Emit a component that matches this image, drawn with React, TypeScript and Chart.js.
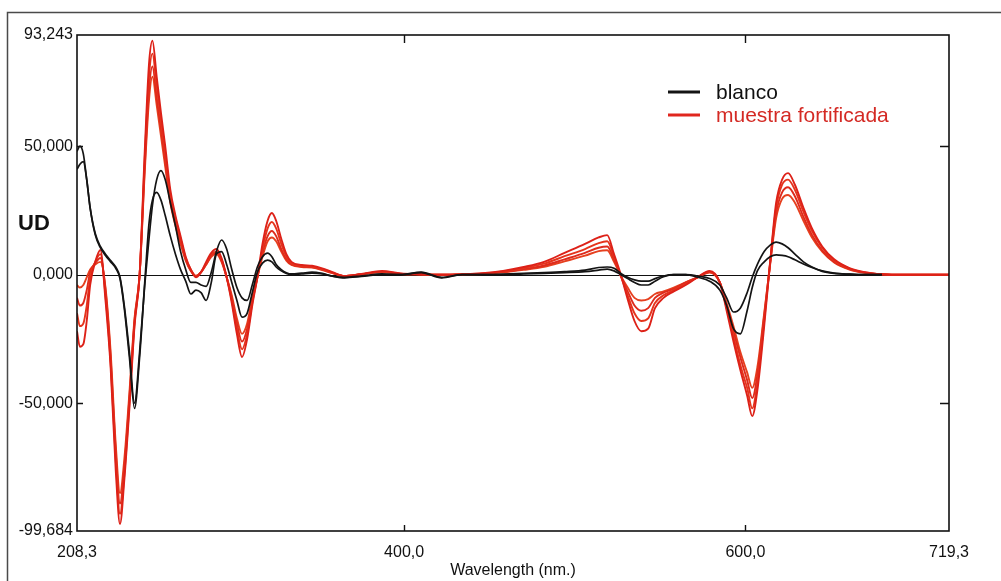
import React, { useEffect, useRef } from "react";
import { Chart, registerables } from "chart.js";

Chart.register(...registerables);

const wavelengths = [
  208.3, 210, 212, 214, 216, 219, 222, 225, 228, 231,
  233.5, 236, 239, 242, 245, 248, 250.5, 252.5, 255, 257.5,
  260, 263, 266, 269, 272, 275, 278, 281, 284, 287,
  290, 293, 296, 299, 302, 305, 308, 311, 314, 317,
  320, 322.5, 325, 328, 331, 334, 340, 346, 352, 358,
  365, 375, 387, 398, 410, 422, 434, 446, 458, 470,
  482, 494, 506, 514, 519, 523, 527, 531, 535, 539,
  543, 547, 552, 558, 565, 572, 579, 585, 589, 593,
  597, 601, 604, 607, 611, 614.5, 618, 621.5, 625, 629,
  634, 639, 645, 652, 661, 670, 680, 692, 705, 719.3,
];

const blanco1 = [
  48, 50, 47, 37, 26, 16, 11, 8, 5.5, 3,
  -1, -12, -30, -50, -30, -4, 14, 27, 37, 40.5,
  37, 28, 19, 9, 2, -3, -3, -4, -4.5, 1,
  9, 13.5, 10, 2, -5, -9, -10, -4, 3, 7,
  8.4, 7, 4, 2, 0.8, 0.3, 0.6, 1, 0.5, -0.5,
  -1, -0.5, 0.3, 0, 1, -1, 0, 0, 0.2, 0.5,
  0.8, 1.2, 1.8, 2.8, 3, 2.5, 0.5, -1, -2, -2.5,
  -2.5, -1.5, -0.5, 0, 0, -0.5, -1.5, -4, -9, -14.5,
  -13, -7, -1, 4, 9, 11.5, 12.7, 12, 10.5, 8,
  5, 3, 1.3, 0.5, 0.2, 0, 0, null, null, null,
];

const blanco2 = [
  41, 43, 44, 37, 26, 15.5, 10.5, 7.5, 5, 2.5,
  -1.5, -13, -32, -52, -32, -3, 20, 29, 32, 29,
  23, 15, 8, 2, -2.5, -7.5, -6, -7, -10, -3,
  8, 9, 4, -3, -10, -16.5, -15, -7, 1, 4.5,
  5.7, 5, 3, 1.5, 0.5, 0, 0.3, 0.6, 0.3, -0.6,
  -1.2, -0.7, 0, 0, 0.8, -1.2, 0, 0, 0, 0.3,
  0.5, 0.8, 1.2, 1.8, 2.2, 1.5, 0, -1.5, -3, -4,
  -4, -2.5, -0.8, 0, 0, -1, -2.5, -6, -12, -21,
  -23, -14, -5, 1.5, 5, 7, 7.7, 7.5, 7, 5.8,
  4.2, 2.8, 1.5, 0.6, 0.2, 0, 0, null, null, null,
];

const fortificada1 = [
  -22, -28, -27, -18, -4, 5, 9.6, -10, -36, -76,
  -97, -80, -52, -20, 0, 48, 82, 91, 77, 63,
  50, 33, 23, 15, 7, 2, -1, 1, 5, 8.5,
  10, 6.5, -1, -11, -23, -32, -25, -12, -1, 12,
  21, 24, 21, 14, 8, 5, 3.8, 3.5, 2.5, 1,
  -0.5, 0.3, 1.5, 0.5, 0.2, 0, 0.2, 0.6, 1.5, 3,
  5, 8.5, 12, 14.5, 15.4, 8, 0, -9.5, -18, -22,
  -21, -13, -9, -6.5, -4, -1, 1.5, -3, -14, -26,
  -37, -47, -55, -45, -20, 5, 28, 37, 39.5, 35,
  26, 18, 11, 6, 2.6, 1, 0.2, 0, 0, 0,
];

const fortificada2 = [
  -15, -20, -19, -12, -1, 5, 8, -8, -34, -72,
  -93, -78, -50, -19, 0, 45, 77, 86, 73, 60,
  47, 31, 22, 14, 6.5, 2, -0.5, 1, 4.5, 8,
  9, 6, -1, -10, -21, -29, -23, -11, -1, 10,
  18, 20.5, 18, 12, 7, 4.5, 3.5, 3.2, 2.2, 0.8,
  -0.5, 0.2, 1.2, 0.4, 0.2, 0, 0.2, 0.5, 1.3, 2.6,
  4.3, 7.2, 10, 12.3, 13, 7, -0.5, -8, -15, -18,
  -17, -11, -8, -6, -3.5, -1, 1.2, -3, -13, -24,
  -35, -44, -52, -42, -18, 5, 26, 35, 37, 33,
  24.5, 17, 10.5, 5.5, 2.4, 0.9, 0.2, 0, 0, 0,
];

const fortificada3 = [
  -9, -12, -11, -6, 1, 4.5, 6.5, -6, -32, -69,
  -89, -75, -48, -18, 0, 42, 72, 81, 69, 57,
  44, 29, 20, 13, 6, 1.5, -0.5, 1, 4, 7.5,
  8.5, 5.5, -1, -9, -19, -26, -21, -10, -1, 8.5,
  15, 17, 15, 10, 6, 4, 3.2, 3, 2, 0.7,
  -0.5, 0.2, 1, 0.3, 0.1, 0, 0.1, 0.4, 1.1, 2.2,
  3.6, 6, 8.5, 10.5, 11, 6, -0.5, -6.5, -12, -14,
  -13, -9, -7, -5.5, -3, -1, 1, -3, -12, -22,
  -32, -41, -48, -39, -16, 4.5, 24, 32, 34, 30.5,
  22.5, 15.5, 9.5, 5, 2.2, 0.8, 0.2, 0, 0, 0,
];

const fortificada4 = [
  -4, -5, -4, -1, 2, 4, 5, -5, -30, -66,
  -85, -72, -46, -17, 0, 40, 68, 77, 66, 54,
  42, 28, 19, 12, 5.5, 1.5, -0.5, 1, 4, 7,
  8, 5, -1, -8, -17, -23, -19, -9, -1, 7,
  13, 14.5, 13, 9, 5.5, 3.8, 3, 2.8, 1.8, 0.6,
  -0.5, 0.2, 1, 0.3, 0.1, 0, 0.1, 0.3, 0.9, 1.9,
  3.1, 5.2, 7.4, 9.2, 9.5, 5, -0.5, -5, -9, -10,
  -9.5, -7.5, -6.5, -5, -3, -1, 0.8, -3, -11, -20,
  -30, -38, -44, -36, -15, 4, 22, 29.5, 31, 28,
  21, 14.5, 9, 4.8, 2, 0.7, 0.2, 0, 0, 0,
];

const xTickValues = [208.3, 400, 600, 719.3];
const yTickValues = [-99.684, -50, 0, 50, 93.243];
const innerTickX = [400, 600];
const innerTickY = [-50, 50];
const X_MIN = 208.3;
const X_MAX = 719.3;
const Y_MIN = -99.684;
const Y_MAX = 93.243;

const BLACK = "#141414";
const RED = "#e0261e";
const FONT = "'Liberation Sans', Arial, sans-serif";

const seriesList = [
  { label: "blanco", values: blanco1, color: BLACK },
  { label: "blanco", values: blanco2, color: BLACK },
  { label: "muestra fortificada", values: fortificada1, color: "#dd2118" },
  { label: "muestra fortificada", values: fortificada2, color: "#e5341c" },
  { label: "muestra fortificada", values: fortificada3, color: "#de2a1c" },
  { label: "muestra fortificada", values: fortificada4, color: "#e6401f" },
];

const legendEntries = [
  { label: "blanco", color: BLACK, textColor: "#111" },
  { label: "muestra fortificada", color: RED, textColor: "#d42a24" },
];

const fmt = (v: number, d: number) => v.toFixed(d).replace(".", ",");

const decorPlugin = {
  id: "decor",
  beforeDraw(chart: any) {
    const ctx = chart.ctx;
    ctx.save();
    ctx.fillStyle = "#ffffff";
    ctx.fillRect(0, 0, chart.width, chart.height);
    ctx.strokeStyle = "#4a4a4a";
    ctx.lineWidth = 1.5;
    ctx.beginPath();
    ctx.moveTo(7.5, chart.height);
    ctx.lineTo(7.5, 12.5);
    ctx.lineTo(chart.width, 12.5);
    ctx.stroke();
    ctx.restore();
  },
  beforeDatasetsDraw(chart: any) {
    const ctx = chart.ctx;
    const area = chart.chartArea;
    const y0 = chart.scales.y.getPixelForValue(0);
    ctx.save();
    ctx.strokeStyle = "#111";
    ctx.lineWidth = 1;
    ctx.beginPath();
    ctx.moveTo(area.left, Math.round(y0) + 0.5);
    ctx.lineTo(area.right, Math.round(y0) + 0.5);
    ctx.stroke();
    ctx.restore();
  },
  afterDatasetsDraw(chart: any) {
    const ctx = chart.ctx;
    const area = chart.chartArea;
    const xs = chart.scales.x;
    const ys = chart.scales.y;
    ctx.save();
    ctx.strokeStyle = "#111";
    ctx.lineWidth = 1.6;
    ctx.strokeRect(area.left, area.top, area.right - area.left, area.bottom - area.top);
    ctx.lineWidth = 1.4;
    ctx.beginPath();
    innerTickX.forEach((v) => {
      const px = Math.round(xs.getPixelForValue(v)) + 0.5;
      ctx.moveTo(px, area.top);
      ctx.lineTo(px, area.top + 8);
      ctx.moveTo(px, area.bottom);
      ctx.lineTo(px, area.bottom - 6);
    });
    innerTickY.forEach((v) => {
      const py = Math.round(ys.getPixelForValue(v)) + 0.5;
      ctx.moveTo(area.left, py);
      ctx.lineTo(area.left + 6, py);
      ctx.moveTo(area.right, py);
      ctx.lineTo(area.right - 9, py);
    });
    ctx.stroke();

    // axis label "UD"
    ctx.fillStyle = "#111";
    ctx.font = `bold 22px ${FONT}`;
    ctx.textAlign = "left";
    ctx.textBaseline = "middle";
    ctx.fillText("UD", 18, 224);

    // legend
    const lx0 = 668;
    const lx1 = 700;
    const ly = [92, 115];
    legendEntries.forEach((e, i) => {
      ctx.strokeStyle = e.color;
      ctx.lineWidth = 3;
      ctx.beginPath();
      ctx.moveTo(lx0, ly[i]);
      ctx.lineTo(lx1, ly[i]);
      ctx.stroke();
      ctx.fillStyle = e.textColor;
      ctx.font = `21px ${FONT}`;
      ctx.textBaseline = "middle";
      ctx.fillText(e.label, 716, ly[i] + 1);
    });
    ctx.restore();
  },
};

export default function App() {
  const canvasRef = useRef<HTMLCanvasElement | null>(null);

  useEffect(() => {
    if (!canvasRef.current) return;
    const datasets = seriesList.map((s) => ({
      label: s.label,
      data: wavelengths.map((w, i) => ({ x: w, y: s.values[i] })),
      borderColor: s.color,
      backgroundColor: s.color,
      borderWidth: s.color === BLACK ? 1.7 : 1.9,
      pointRadius: 0,
      cubicInterpolationMode: "monotone" as const,
      fill: false,
    }));

    const chart = new Chart(canvasRef.current, {
      type: "line",
      data: { datasets },
      options: {
        animation: false,
        responsive: false,
        devicePixelRatio: 1,
        layout: { padding: { left: 0, top: 35, right: 52, bottom: 0 } },
        plugins: {
          legend: { display: false },
          tooltip: { enabled: false },
        },
        scales: {
          x: {
            type: "linear",
            min: X_MIN,
            max: X_MAX,
            grid: { display: false, drawTicks: false },
            border: { display: false },
            afterBuildTicks: (scale: any) => {
              scale.ticks = xTickValues.map((v) => ({ value: v }));
            },
            afterFit: (scale: any) => {
              scale.height = 50;
            },
            ticks: {
              autoSkip: false,
              maxRotation: 0,
              padding: 12,
              color: "#111",
              font: { family: FONT, size: 16 },
              callback: (v: any) => fmt(Number(v), 1),
            },
            title: {
              display: true,
              text: "Wavelength (nm.)",
              color: "#111",
              font: { family: FONT, size: 16 },
              padding: { top: 0, bottom: 1 },
            },
          },
          y: {
            type: "linear",
            min: Y_MIN,
            max: Y_MAX,
            grid: { display: false, drawTicks: false },
            border: { display: false },
            afterBuildTicks: (scale: any) => {
              scale.ticks = yTickValues.map((v) => ({ value: v }));
            },
            afterFit: (scale: any) => {
              scale.width = 77;
            },
            ticks: {
              autoSkip: false,
              padding: 4,
              color: "#111",
              font: { family: FONT, size: 16 },
              callback: (v: any) => fmt(Number(v), 3),
            },
          },
        },
      },
      plugins: [decorPlugin],
    });
    return () => chart.destroy();
  }, []);

  return (
    <div style={{ position: "fixed", left: 0, top: 0, width: 1001, height: 581, background: "#fff" }}>
      <canvas ref={canvasRef} width={1001} height={581} style={{ display: "block" }} />
    </div>
  );
}
